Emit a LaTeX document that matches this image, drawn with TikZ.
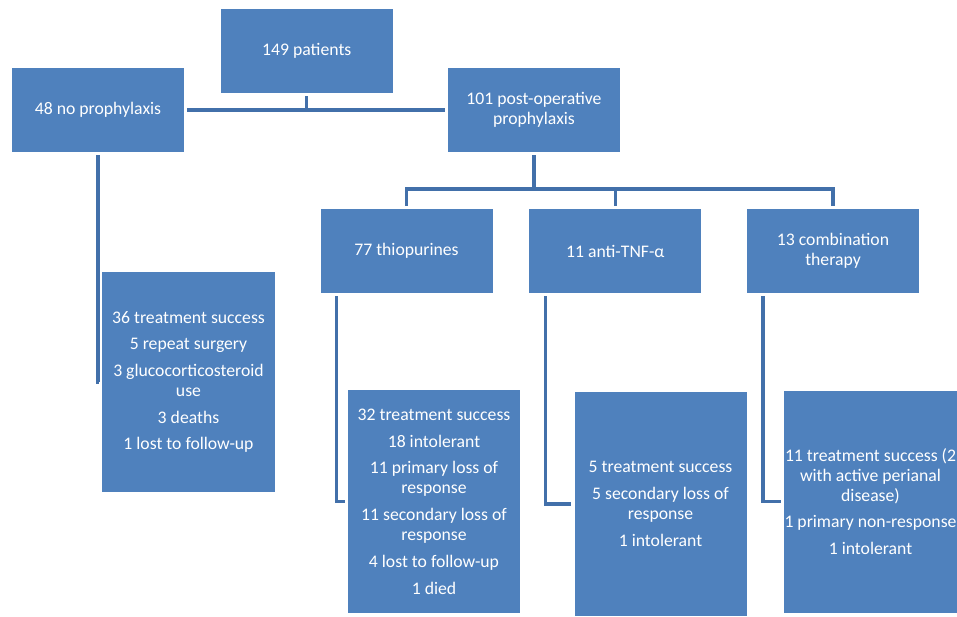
\documentclass[tikz,border=0pt]{standalone}
\usepackage{fontspec}
\setmainfont{Carlito}
\usepackage{tikz}
\usetikzlibrary{positioning, calc}
\definecolor{boxblue}{RGB}{79,129,189}
\definecolor{lineblue}{RGB}{66,112,170}
\tikzstyle{box} = [rectangle, fill=boxblue, text=white, minimum width=5.16cm, minimum height=2.52cm, inner sep=0pt, outer sep=0.1cm, align=center, font=\fontsize{15.1}{17.1}\selectfont]
\tikzstyle{outcome} = [box, minimum height=6.66cm]
\tikzstyle{link} = [draw=lineblue, line width=2.8pt]

\begin{document}
\begin{tikzpicture}[x=0.03cm, y=-0.03cm]
    \useasboundingbox (0,0) rectangle (957,616);

    % Cohort
    \node (patients) [box] at (306.8,50.8) {149 patients};
    \node (noproph) [box] at (98,110) {48 no prophylaxis};
    \node (postop) [box] at (534,110) {101 post-operative\\prophylaxis};

    % Treatment groups
    \node (thio) [box] at (406.5,251) {77 thiopurines};
    \node (anti) [box] at (615.3,251) {11 anti-TNF-α};
    \node (combo) [box] at (833,251) {13 combination\\therapy};

    % Outcomes
    \node (noprophout) [outcome, minimum width=5.19cm, minimum height=6.6cm] at (188.5,382) {
        36 treatment success\\[5.7pt]
        5 repeat surgery\\[5.7pt]
        3 glucocorticosteroid\\use\\[5.7pt]
        3 deaths\\[5.7pt]
        1 lost to follow-up
    };
    \node (thioout) [outcome, minimum height=6.69cm] at (434,501.5) {
        32 treatment success\\[5.7pt]
        18 intolerant\\[5.7pt]
        11 primary loss of\\response\\[5.7pt]
        11 secondary loss of\\response\\[5.7pt]
        4 lost to follow-up\\[5.7pt]
        1 died
    };
    \node (antiout) [outcome, minimum height=6.72cm] at (660.5,504) {
        5 treatment success\\[5.7pt]
        5 secondary loss of\\response\\[5.7pt]
        1 intolerant
    };
    \node (comboout) [outcome, minimum width=5.19cm] at (870.5,501.5) {
        11 treatment success (2\\with active perianal\\disease)\\[5.7pt]
        1 primary non-response\\[5.7pt]
        1 intolerant
    };

    % Connections
    \coordinate (split) at (534,189);
    \draw [link] (noproph.east) -- (postop.west);
    \draw [link] (patients.south) -- (patients.south |- noproph.east);
    \draw [link] (postop.south) -- (split);
    \draw [link] (thio.north) |- (split) -| (combo.north);
    \draw [link] (anti.north) -- (anti.north |- split);
    \draw [link] (noproph.south) |- (noprophout.west);
    \draw [link] ([xshift=0.58cm]thio.south west) |- (thioout.west);
    \draw [link] ([xshift=0.58cm]anti.south west) |- (antiout.west);
    \draw [link] ([xshift=0.58cm]combo.south west) |- (comboout.west);
\end{tikzpicture}
\end{document}
